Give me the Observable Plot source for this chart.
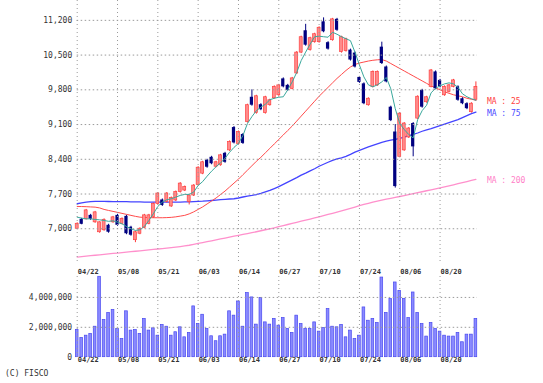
<!DOCTYPE html>
<html><head><meta charset="utf-8">
<script src="https://cdn.jsdelivr.net/npm/d3@7"></script>
<script src="https://cdn.jsdelivr.net/npm/@observablehq/plot@0.6"></script>
<style>
body{margin:0;background:#fff;}
#wrap{position:relative;width:543px;height:383px;overflow:hidden;background:#fff;font-family:"DejaVu Sans Mono",monospace;}
#price{position:absolute;left:0;top:0;}
#vol{position:absolute;left:0;top:262px;}
#credit{position:absolute;left:5px;top:369px;font-size:8px;line-height:10px;color:#333;}
</style></head><body>
<div id="wrap"><div id="price"></div><div id="vol"></div><div id="credit">(C) FISCO</div></div>
<script>
const dateLabels = ["04/22","05/08","05/21","06/03","06/14","06/27","07/10","07/24","08/06","08/20"];
const dateIdx = [0,9,18,27,36,45,54,63,72,81];
const priceTicks = [7000,7700,8400,9100,9800,10500,11200];
const volTicks = [0,2000000,4000000];

const opens = [7000,7190,7190,7270,7130,6930,6970,7070,7130,7270,
 7100,7250,7030,6770,6900,7020,7100,7230,7500,7580,
 7540,7450,7570,7740,7770,7540,7670,7880,8110,8380,
 8440,8250,8280,8520,8580,9040,8710,8900,9150,9650,
 9330,9500,9330,9490,9630,9690,10020,9890,9820,10130,
 10550,10990,10600,10760,10760,11170,10750,10800,11220,10560,
 10580,10600,10540,10050,9920,9490,9860,9890,10660,10260,
 9450,8950,8450,8580,8840,9120,9220,9790,9550,9860,
 10160,9990,9690,9760,9860,9860,9620,9520,9350,9600];
const closes = [7100,7090,7370,7190,7330,7130,7180,6930,7230,7070,
 7200,6900,6870,6930,7000,7270,7270,7500,7710,7470,
 7710,7620,7740,7910,7840,7670,7870,8230,8340,8240,
 8310,8340,8480,8340,8750,8730,8950,8720,9490,9490,
 9670,9400,9650,9590,9860,9890,9860,9790,10030,10550,
 10860,10700,10840,10920,11050,10970,10620,11220,11000,10860,
 10820,10400,10260,9950,9520,9620,10160,10160,10330,9960,
 9180,7850,9320,9120,9020,8650,9660,9450,9650,10190,
 9820,9860,9860,9890,9990,9590,9520,9420,9520,9860];
const highs = [7120,7210,7390,7290,7350,7140,7200,7090,7250,7290,
 7220,7270,7050,6950,7020,7290,7290,7520,7730,7600,
 7730,7640,7760,7930,7860,7690,7890,8250,8360,8400,
 8460,8360,8500,8540,8770,9060,8970,8920,9510,9800,
 9690,9520,9670,9610,9880,9910,10040,9910,10050,10570,
 10880,11120,10860,10940,11070,11250,10770,11240,11240,10880,
 10840,10620,10560,10070,9940,9640,10180,10180,10760,10280,
 9470,9100,9340,9140,9040,9140,9680,9810,9670,10210,
 10180,10010,9880,9910,10010,9880,9640,9540,9540,9960];
const lows = [6980,7080,7180,7170,7110,6910,6950,6910,7110,7050,
 7080,6880,6850,6720,6880,7000,7080,7210,7480,7450,
 7520,7430,7550,7720,7750,7480,7650,7860,8090,8220,
 8290,8230,8260,8320,8560,8710,8690,8700,9130,9470,
 9310,9380,9310,9470,9610,9670,9840,9770,9800,10110,
 10530,10680,10580,10740,10740,10950,10600,10780,10980,10540,
 10560,10380,10240,9930,9500,9470,9840,9870,10310,9940,
 9160,7820,8430,8560,8820,8450,9200,9430,9530,9840,
 9800,9840,9670,9740,9840,9570,9500,9400,9330,9580];
const ma5 = [7234,7214,7200,7200,7188,7180,7167,7150,7160,7133,
 7100,7046,7000,6966,6980,7046,7167,7302,7450,7537,
 7585,7605,7637,7672,7692,7692,7739,7873,7950,8060,
 8160,8250,8330,8420,8540,8640,8720,8880,9120,9260,
 9380,9450,9510,9600,9630,9650,9660,9800,9960,10150,
 10390,10560,10720,10870,10880,10870,10860,10960,10920,10870,
 10830,10790,10560,10300,10060,9900,9860,9900,9960,10050,
 9820,9420,9120,9000,8900,8830,9200,9380,9490,9740,
 9830,9880,9920,9940,9920,9850,9720,9660,9620,9590];
const ma25 = [7450,7448,7445,7440,7436,7420,7390,7369,7350,7330,
 7310,7290,7270,7250,7234,7228,7224,7222,7222,7222,
 7225,7230,7240,7255,7270,7300,7340,7390,7440,7500,
 7560,7620,7690,7760,7840,7920,8000,8090,8180,8270,
 8360,8440,8530,8620,8710,8800,8890,8980,9070,9170,
 9270,9370,9470,9570,9670,9760,9850,9940,10030,10110,
 10190,10260,10310,10340,10360,10380,10395,10405,10410,10380,
 10330,10280,10230,10180,10130,10080,10030,9980,9930,9880,
 9840,9800,9760,9730,9700,9680,9660,9630,9610,9590];
const ma75 = [7504,7520,7535,7545,7551,7550,7550,7549,7548,7547,
 7546,7545,7543,7541,7540,7538,7537,7537,7537,7537,
 7537,7537,7537,7538,7540,7542,7545,7550,7555,7562,
 7570,7578,7586,7594,7600,7605,7620,7640,7658,7672,
 7690,7715,7745,7772,7810,7850,7895,7940,7985,8030,
 8080,8120,8165,8210,8260,8300,8340,8380,8410,8430,
 8460,8500,8546,8580,8615,8650,8680,8710,8740,8765,
 8785,8800,8820,8848,8875,8900,8930,8965,8995,9020,
 9050,9080,9110,9140,9170,9200,9240,9280,9320,9352];
const ma200 = [6430,6439,6448,6457,6466,6475,6484,6493,6502,6511,
 6520,6529,6538,6547,6556,6565,6574,6583,6592,6601,
 6610,6620,6630,6642,6654,6668,6686,6704,6722,6740,
 6758,6776,6794,6812,6830,6850,6868,6886,6904,6922,
 6940,6960,6980,7000,7020,7042,7064,7086,7108,7130,
 7152,7174,7196,7218,7240,7264,7288,7312,7336,7360,
 7386,7412,7438,7464,7490,7514,7536,7556,7576,7596,
 7614,7632,7650,7668,7686,7706,7726,7746,7766,7786,
 7806,7826,7846,7866,7886,7908,7930,7952,7974,7996];
const volumes = [1820000,1290000,1440000,1560000,2040000,5380000,2490000,2960000,3160000,1890000,
 1220000,3070000,1780000,1820000,1560000,2560000,1780000,1930000,1440000,2160000,
 2040000,1440000,1670000,2000000,1330000,1620000,3400000,2220000,2840000,1890000,
 1400000,1070000,1400000,1510000,3070000,2780000,3730000,2040000,4290000,4000000,
 2180000,3960000,2330000,2180000,2560000,2110000,2620000,1890000,1620000,2780000,
 2220000,1890000,1890000,2330000,1710000,1960000,3220000,2040000,2000000,2160000,
 1330000,1780000,1220000,1440000,3330000,2440000,2560000,2290000,5330000,2960000,
 3890000,5000000,4440000,3890000,2620000,4330000,2960000,2220000,1380000,2290000,
 1890000,1710000,1440000,1380000,1380000,1620000,1000000,1510000,1510000,2560000];

const N = closes.length;
const bars = d3.range(N).map(i => ({i, o: opens[i], h: highs[i], l: lows[i], c: closes[i]}));
const up = bars.filter(d => d.c >= d.o);
const down = bars.filter(d => d.c < d.o);
const lineData = arr => arr.map((v, i) => ({i, v}));
const dateData = dateIdx.map((x, k) => ({x, t: dateLabels[k]}));
const last = N - 1;
const maLabels = [
  {i: last, v: ma25[last], t: "MA : 25", c: "#ff4040"},
  {i: last, v: ma75[last], t: "MA : 75", c: "#4a4aff"},
  {i: last, v: ma200[last], t: "MA : 200", c: "#ff80c8"}
];
const fmt = d3.format(",");
const XMAX = 89.35;
const gridC = "#9a9a9a";

const common = {
  width: 543, marginLeft: 76.7, marginRight: 67.6,
  x: {domain: [0, N - 1], axis: null},
  style: {fontFamily: "DejaVu Sans Mono, monospace", fontSize: "8px", color: "#333", background: "transparent", overflow: "visible"}
};

const price = Plot.plot({
  ...common,
  height: 263, marginTop: 0, marginBottom: 0,
  y: {domain: [6300, 11600], axis: null},
  marks: [
    Plot.line(lineData(ma200), {x: "i", y: "v", stroke: "#ff90cc", strokeWidth: 1.3}),
    Plot.line(lineData(ma75), {x: "i", y: "v", stroke: "#4444ff", strokeWidth: 1.3}),
    Plot.line(lineData(ma25), {x: "i", y: "v", stroke: "#ff4a4a", strokeWidth: 1}),
    Plot.ruleX(up, {x: "i", y1: "l", y2: "h", stroke: "#ff3a3a", strokeWidth: 1}),
    Plot.ruleX(down, {x: "i", y1: "l", y2: "h", stroke: "#000080", strokeWidth: 1}),
    Plot.rect(up, {x1: d => d.i - 0.33, x2: d => d.i + 0.33, y1: "o", y2: "c", fill: "#ff8a8a", stroke: "#ff4040", strokeWidth: 0.7}),
    Plot.rect(down, {x1: d => d.i - 0.36, x2: d => d.i + 0.36, y1: "o", y2: "c", fill: "#000080"}),
    Plot.line(lineData(ma5), {x: "i", y: "v", stroke: "#3aa89c", strokeWidth: 1}),
    Plot.ruleY(priceTicks, {x1: 0, x2: XMAX, stroke: gridC, strokeDasharray: "1.5,2.5"}),
    Plot.ruleX(dateIdx, {stroke: gridC, strokeDasharray: "1,3"}),
    Plot.text(priceTicks, {x: 0, y: d => d, text: d => fmt(d), textAnchor: "end", dx: -5, fill: "#333"}),
    Plot.text(maLabels, {x: "i", y: "v", text: "t", fill: "c", textAnchor: "start", dx: 11, dy: 1})
  ]
});
document.getElementById("price").appendChild(price);

const volData = volumes.map((v, i) => ({i, v}));
const vol = Plot.plot({
  ...common,
  height: 105, marginTop: 14, marginBottom: 10.3,
  y: {domain: [0, 5400000], axis: null},
  marks: [
    Plot.rect(volData, {x1: d => d.i - 0.3, x2: d => d.i + 0.3, y1: 0, y2: "v", fill: "#8a8aff", stroke: "#4848f0", strokeWidth: 0.7}),
    Plot.ruleY([2000000, 4000000], {x1: 0, x2: XMAX, stroke: gridC, strokeDasharray: "1.5,2.5"}),
    Plot.ruleX(dateIdx, {stroke: gridC, strokeDasharray: "1,3"}),
    Plot.text(volTicks, {x: 0, y: d => d, text: d => fmt(d), textAnchor: "end", dx: -5, fill: "#333"}),
    Plot.text(dateData, {x: "x", text: "t", frameAnchor: "top", dy: -7, textAnchor: "start", dx: 0.5, fontSize: 7, fontWeight: "bold", fill: "#333"}),
    Plot.text(dateData, {x: "x", text: "t", frameAnchor: "bottom", dy: 4.5, textAnchor: "start", dx: 0.5, fontSize: 7, fontWeight: "bold", fill: "#333"})
  ]
});
document.getElementById("vol").appendChild(vol);
</script>
</body></html>
